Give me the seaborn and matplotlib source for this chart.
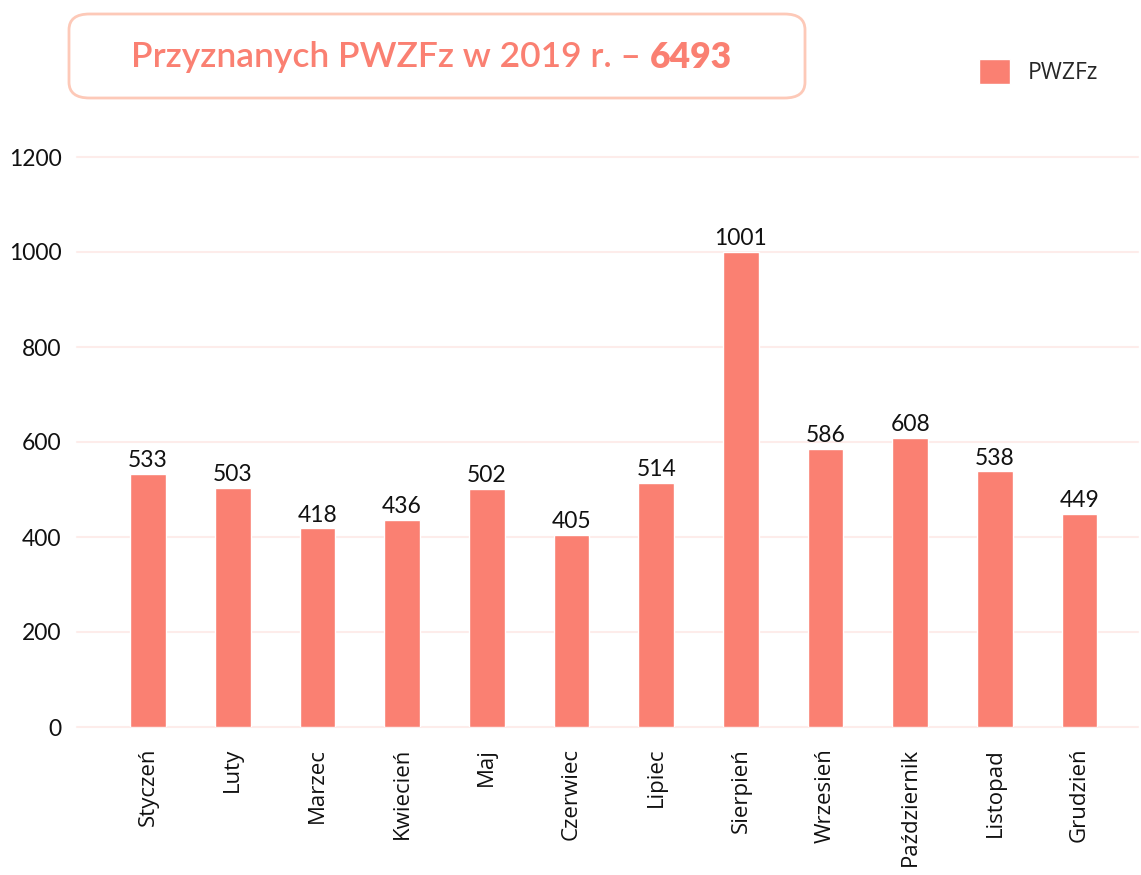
import pandas as pd
import seaborn as sns
import matplotlib.pyplot as plt
from matplotlib.patches import FancyBboxPatch
from matplotlib.text import Annotation

months = ['Styczeń', 'Luty', 'Marzec', 'Kwiecień', 'Maj', 'Czerwiec', 'Lipiec',
          'Sierpień', 'Wrzesień', 'Październik', 'Listopad', 'Grudzień']
counts = [533, 503, 418, 436, 502, 405, 514, 1001, 586, 608, 538, 449]
series_name = 'PWZFz'
total = 6493

df = pd.DataFrame({'month': months, 'count': counts})

sns.set_style('white')
plt.rcParams['font.family'] = ['Lato', 'DejaVu Sans']

salmon = '#FA8072'

fig = plt.figure(figsize=(11.41, 8.75), dpi=100)
ax = fig.add_axes([77 / 1141, 1 - 727 / 875, 1 - 77 / 1141 - 3 / 1141, 570 / 875])

sns.barplot(data=df, x='month', y='count', color=salmon, width=0.42,
            saturation=1, label=series_name, ax=ax)
ax.bar_label(ax.containers[0], padding=2, fontsize=16.5, color='#111111')

ax.set_ylim(0, 1200)
ax.set_xlim(-0.84, 11.69)
ax.set_yticks([0, 200, 400, 600, 800, 1000, 1200])
ax.yaxis.grid(True, color='#FDECEA', linewidth=1.5, clip_on=False)
ax.set_axisbelow(True)
for s in ax.spines.values():
    s.set_visible(False)
ax.set_xlabel('')
ax.set_ylabel('')
ax.tick_params(axis='y', length=0, pad=11, labelsize=16.5, labelcolor='#111111')
ax.tick_params(axis='x', length=0, pad=15)
for lab in ax.get_xticklabels():
    lab.set_rotation(90)
    lab.set_family(['Open Sans', 'DejaVu Sans'])
    lab.set_fontsize(16)
    lab.set_color('#111111')
    lab.set_va('top')

# legend top right
ax.legend(loc='center left', bbox_to_anchor=(968 / 1141, 1 - 72 / 875),
          bbox_transform=fig.transFigure, frameon=False, handlelength=1.35,
          handleheight=1.35, handletextpad=0.75, borderpad=0,
          prop={'family': 'Open Sans', 'size': 16.5})

# title box
box = FancyBboxPatch((69 / 1141, 1 - 98 / 875), 736 / 1141, 84 / 875,
                     boxstyle='round,pad=0,rounding_size=0.018',
                     transform=fig.transFigure, facecolor='white',
                     edgecolor='#FDC9B8', linewidth=2)
fig.patches.append(box)
t1 = fig.text(131 / 1141, 1 - 57 / 875, 'Przyznanych PWZFz w 2019 r. – ',
              fontsize=25.5, fontweight='semibold', color=salmon,
              va='center', ha='left')
t2 = Annotation(str(total), xy=(1, 0.5), xycoords=t1, va='center', ha='left',
                fontsize=25.5, fontweight='heavy', color=salmon)
fig.add_artist(t2)

fig.savefig('out.png', dpi=100)
